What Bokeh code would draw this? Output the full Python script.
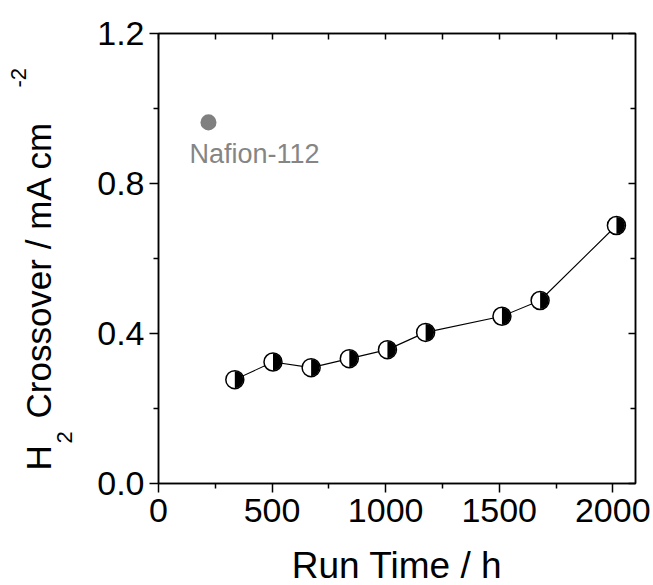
import math
from bokeh.plotting import figure
from bokeh.layouts import gridplot
from bokeh.models import LinearAxis, Range1d, Label, FixedTicker, ColumnDataSource
from bokeh.embed import file_html
from bokeh.resources import INLINE

# Data
run_time = [336, 504, 672, 840, 1008, 1176, 1512, 1680, 2016]
crossover = [0.277, 0.324, 0.309, 0.333, 0.357, 0.403, 0.446, 0.488, 0.688]
nafion_x = [220]
nafion_y = [0.963]
nafion_label = "Nafion-112"
x_ticks = [0, 500, 1000, 1500, 2000]
x_minor = [250, 750, 1250, 1750]
y_ticks = [0.0, 0.4, 0.8, 1.2]
y_minor = [0.2, 0.6, 1.0]
y_tick_labels = ["0.0", "0.4", "0.8", "1.2"]
x_title = "Run Time / h"

FONT = "Liberation Sans"
W, H = 653, 585
LW = 86    # width of the y-title strip
BH = 40    # height of the x-title strip
ML, MR, MT, MB = 158 - LW, 18, 33, 62
BASE = 0.34  # baseline correction (em) for labels

p = figure(width=W - LW, height=H - BH, output_backend="svg", toolbar_location=None,
           x_range=Range1d(0, 2100), y_range=Range1d(0, 1.2),
           min_border_left=ML, min_border_right=MR, min_border_top=MT, min_border_bottom=MB,
           x_axis_location=None, y_axis_location=None)
p.grid.visible = False
p.outline_line_color = "black"
p.outline_line_width = 1.5
p.background_fill_color = "white"
p.border_fill_color = "white"

def style_axis(ax, ticks, minor, labels=True, inward=False):
    ax.ticker = FixedTicker(ticks=ticks, minor_ticks=minor)
    ax.axis_line_color = "black"
    ax.axis_line_width = 1.5
    ax.major_tick_line_width = 1.5
    ax.minor_tick_line_width = 1.5
    ax.major_tick_line_color = "black"
    ax.minor_tick_line_color = "black"
    if inward:
        ax.major_tick_in = 7
        ax.major_tick_out = 0
        ax.minor_tick_in = 5
        ax.minor_tick_out = 0
    else:
        ax.major_tick_in = 0
        ax.major_tick_out = 9
        ax.minor_tick_in = 0
        ax.minor_tick_out = 5
    ax.major_label_text_font = FONT
    ax.major_label_text_color = "black"
    if labels:
        ax.major_label_text_font_size = "34px"
    else:
        ax.major_label_text_font_size = "1px"
        ax.major_label_overrides = {t: "" for t in ticks}
        ax.major_label_standoff = 0

xb = LinearAxis()
style_axis(xb, x_ticks, x_minor)
xb.major_label_standoff = 6
p.add_layout(xb, "below")

yl = LinearAxis()
style_axis(yl, y_ticks, y_minor)
yl.major_label_standoff = 5
yl.major_label_overrides = dict(zip(y_ticks, y_tick_labels))
p.add_layout(yl, "left")

xt = LinearAxis()
style_axis(xt, x_ticks, x_minor, labels=False, inward=True)
xt.minor_tick_in = 6
xt.major_tick_in = 6
p.add_layout(xt, "above")

yr = LinearAxis()
style_axis(yr, y_ticks, y_minor, labels=False, inward=True)
p.add_layout(yr, "right")

# Data series
src = ColumnDataSource(dict(x=run_time, y=crossover))
p.line("x", "y", source=src, line_color="black", line_width=1.1)
p.scatter("x", "y", source=src, size=18, fill_color="white", line_color=None)
p.wedge("x", "y", source=src, radius=8.5, radius_units="screen",
        start_angle=-math.pi / 2, end_angle=math.pi / 2,
        fill_color="black", line_color=None)
p.scatter("x", "y", source=src, size=18, fill_color=None, line_color="black", line_width=1.5)

# Nafion point
p.scatter(nafion_x, nafion_y, size=16, fill_color="#808080", line_color=None)
p.add_layout(Label(x=nafion_x[0], y=nafion_y[0], x_offset=-19, y_offset=-41 + BASE * 27,
                   text=nafion_label, text_font=FONT, text_font_size="27px",
                   text_color="#858585", text_baseline="alphabetic", text_align="left"))

def strip(w, h, **borders):
    f = figure(width=w, height=h, output_backend="svg", toolbar_location=None,
               x_range=Range1d(0, 1), y_range=Range1d(0, 1),
               x_axis_location=None, y_axis_location=None, **borders)
    f.grid.visible = False
    f.outline_line_color = None
    f.background_fill_color = "white"
    f.border_fill_color = "white"
    return f

# Y axis title strip with subscript / superscript
lf = strip(LW, H - BH, min_border_left=0, min_border_right=0,
           min_border_top=MT, min_border_bottom=MB)
ang = math.pi / 2
def ylab(text, sx, sy, size):
    lf.add_layout(Label(x=sx - BASE * size, y=sy, x_units="screen", y_units="screen", angle=ang,
                        text=text, text_font=FONT, text_font_size=f"{size}px", text_color="black",
                        text_baseline="alphabetic", text_align="left"))

ylab("H", 50, 13, 35)
ylab("2", 71, 40, 22)
ylab("Crossover / mA cm", 50, 65, 35)
ylab("-2", 25, 396, 22)

# X axis title strip
bf = strip(W - LW, BH, min_border_left=ML, min_border_right=MR,
           min_border_top=0, min_border_bottom=0)
bf.x_range = p.x_range
bf.add_layout(Label(x=(p.x_range.start + p.x_range.end) / 2, y=7 + BASE * 37,
                    y_units="screen", text=x_title, text_font=FONT, text_font_size="37px",
                    text_color="black", text_baseline="alphabetic", text_align="center"))

grid = gridplot([[lf, p], [None, bf]], toolbar_location=None)
open("out.html", "w").write(file_html(grid, INLINE))
